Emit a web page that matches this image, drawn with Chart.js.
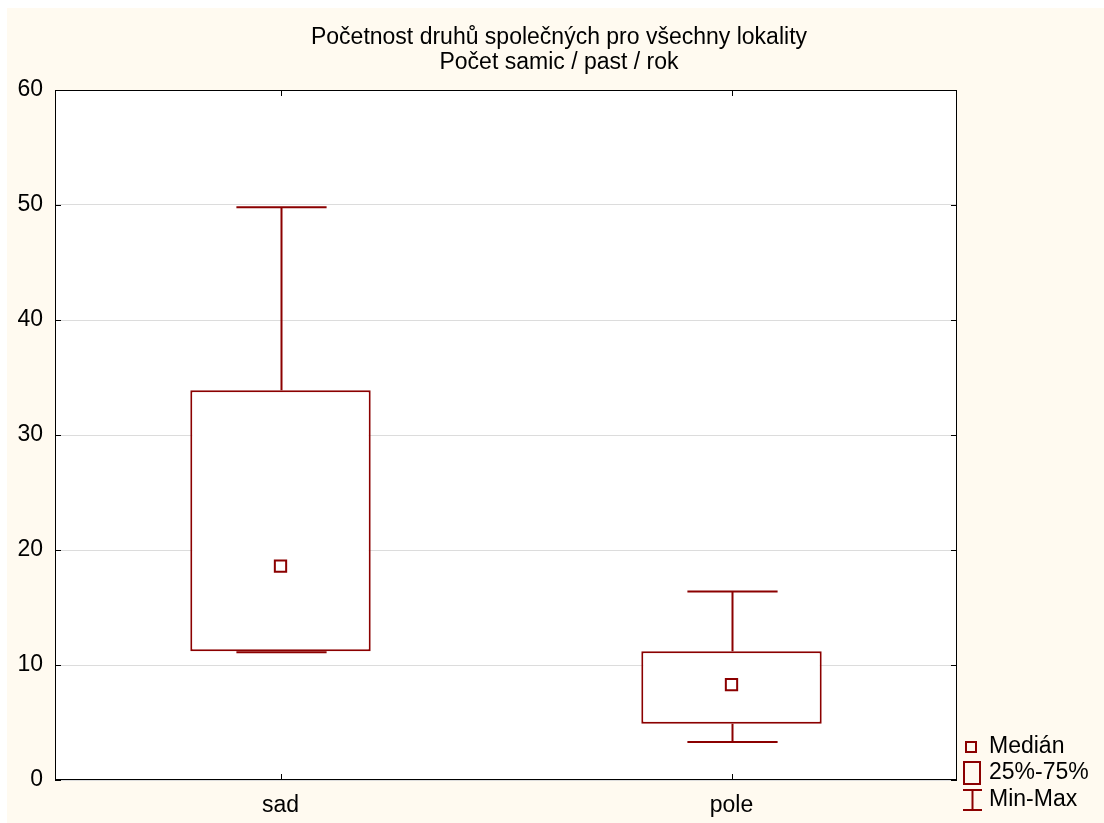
<!DOCTYPE html>
<html>
<head>
<meta charset="utf-8">
<script src="https://cdn.jsdelivr.net/npm/chart.js@4/dist/chart.umd.min.js"></script>
<style>
  html, body { margin: 0; padding: 0; background: #ffffff; }
  #wrap { position: absolute; left: 7px; top: 8px; width: 1097px; height: 815px; background: #fffaf0; }
</style>
</head>
<body>
<div id="wrap"><canvas id="boxChart" width="1097" height="815"></canvas></div>
<script>
// Hodnoty
const categories = ['sad', 'pole'];
const minVals = [11.1, 3.3];
const q1Vals = [11.2, 4.9];
const medianVals = [18.6, 8.3];
const q3Vals = [33.9, 11.2];
const maxVals = [49.8, 16.4];
const titleLines = ['Početnost druhů společných pro všechny lokality', 'Počet samic / past / rok'];
const legendLabels = ['Medián', '25%-75%', 'Min-Max'];

const boxColor = '#8b0000';
const fontFamily = '"Liberation Sans", Arial, sans-serif';

// bílé pozadí plochy grafu
const plotBackground = {
    id: 'plotBackground',
    beforeDraw(chart) {
        const { ctx, chartArea: a } = chart;
        ctx.save();
        ctx.fillStyle = '#ffffff';
        ctx.fillRect(a.left, a.top, a.right - a.left, a.bottom - a.top);
        ctx.restore();
    }
};

// vousy (min-max) kreslené přes osy grafu
const whiskers = {
    id: 'whiskers',
    afterDatasetsDraw(chart) {
        const { ctx, scales: { x, y } } = chart;
        const bars = chart.getDatasetMeta(0).data;
        ctx.save();
        ctx.strokeStyle = boxColor;
        ctx.lineWidth = 2;
        categories.forEach((c, i) => {
            const cx = Math.round(x.getPixelForValue(i)) + 0.5;
            const half = bars[i].width / 4;
            const yMin = y.getPixelForValue(minVals[i]);
            const yMax = y.getPixelForValue(maxVals[i]);
            const yQ1 = y.getPixelForValue(q1Vals[i]);
            const yQ3 = y.getPixelForValue(q3Vals[i]);
            ctx.beginPath();
            ctx.moveTo(cx, yQ3); ctx.lineTo(cx, yMax);
            ctx.moveTo(cx - half, yMax); ctx.lineTo(cx + half, yMax);
            ctx.moveTo(cx, yQ1); ctx.lineTo(cx, yMin);
            ctx.moveTo(cx - half, yMin); ctx.lineTo(cx + half, yMin);
            ctx.stroke();
        });
        ctx.restore();
    }
};

// rámeček, vnitřní značky os a legenda
const frameAndLegend = {
    id: 'frameAndLegend',
    afterDraw(chart) {
        const { ctx, chartArea: a, scales: { x, y } } = chart;
        ctx.save();
        ctx.strokeStyle = '#000000';
        ctx.lineWidth = 1;
        ctx.strokeRect(a.left + 0.5, a.top + 0.5, a.right - a.left - 1, a.bottom - a.top - 1);
        ctx.beginPath();
        y.ticks.forEach(t => {
            const py = Math.round(y.getPixelForValue(t.value)) + 0.5;
            ctx.moveTo(a.left, py); ctx.lineTo(a.left + 6, py);
            ctx.moveTo(a.right - 6, py); ctx.lineTo(a.right, py);
        });
        categories.forEach((c, i) => {
            const px = Math.round(x.getPixelForValue(i)) + 0.5;
            ctx.moveTo(px, a.top); ctx.lineTo(px, a.top + 6);
            ctx.moveTo(px, a.bottom - 6); ctx.lineTo(px, a.bottom);
        });
        ctx.stroke();

        // legenda
        const lx = a.right;
        const ly = a.bottom;
        ctx.strokeStyle = boxColor;
        ctx.lineWidth = 2;
        ctx.strokeRect(lx + 9, ly - 38, 10, 10);
        ctx.strokeRect(lx + 7, ly - 18, 16, 22);
        ctx.beginPath();
        ctx.moveTo(lx + 6, ly + 10); ctx.lineTo(lx + 25, ly + 10);
        ctx.moveTo(lx + 15.5, ly + 10); ctx.lineTo(lx + 15.5, ly + 30);
        ctx.moveTo(lx + 6, ly + 30); ctx.lineTo(lx + 25, ly + 30);
        ctx.stroke();
        ctx.fillStyle = '#000000';
        ctx.font = '23px ' + fontFamily;
        ctx.textAlign = 'left';
        ctx.textBaseline = 'middle';
        ctx.fillText(legendLabels[0], lx + 32, ly - 33);
        ctx.fillText(legendLabels[1], lx + 32, ly - 7);
        ctx.fillText(legendLabels[2], lx + 32, ly + 20);
        ctx.restore();
    }
};

new Chart(document.getElementById('boxChart').getContext('2d'), {
    type: 'bar',
    data: {
        labels: categories,
        datasets: [
            {
                label: '25%-75%',
                data: categories.map((c, i) => [q1Vals[i], q3Vals[i]]),
                backgroundColor: '#ffffff',
                borderColor: boxColor,
                borderWidth: 2,
                borderSkipped: false,
                barPercentage: 0.4,
                categoryPercentage: 1,
                order: 2
            },
            {
                type: 'line',
                label: 'Medián',
                data: medianVals,
                showLine: false,
                pointStyle: 'rect',
                pointRadius: 8,
                pointBorderWidth: 2,
                pointBackgroundColor: '#ffffff',
                pointBorderColor: boxColor,
                order: 1
            }
        ]
    },
    options: {
        responsive: false,
        devicePixelRatio: 1,
        animation: false,
        layout: { padding: { left: 7, right: 0, top: 0, bottom: 0 } },
        scales: {
            x: {
                grid: { display: false, drawTicks: false },
                border: { display: false },
                ticks: { color: '#000000', padding: 12, font: { family: fontFamily, size: 23 } },
                afterFit: scale => { scale.height = 43; }
            },
            y: {
                min: 0,
                max: 60,
                grid: { color: '#dcdcdc', lineWidth: 1, drawTicks: false },
                border: { display: false },
                ticks: { stepSize: 10, color: '#000000', padding: 12, font: { family: fontFamily, size: 23 } },
                afterFit: scale => { scale.width = 41; }
            },
            // prázdný pravý okraj pro legendu
            yRight: {
                position: 'right',
                min: 0,
                max: 60,
                grid: { display: false, drawTicks: false },
                border: { display: false },
                ticks: { display: false },
                afterFit: scale => { scale.width = 147; }
            }
        },
        plugins: {
            legend: { display: false },
            tooltip: { enabled: false },
            title: {
                display: true,
                text: titleLines,
                color: '#000000',
                font: { family: fontFamily, size: 23, weight: 'normal', lineHeight: 1.1 },
                padding: { top: 17, bottom: 14.4 }
            }
        }
    },
    plugins: [plotBackground, whiskers, frameAndLegend]
});
</script>
</body>
</html>
